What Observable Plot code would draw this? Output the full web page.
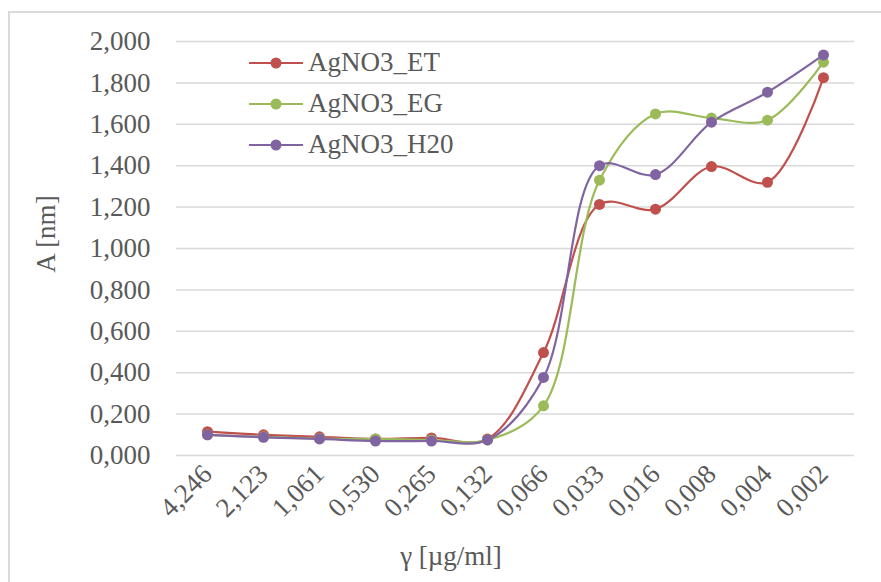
<!DOCTYPE html>
<html>
<head>
<meta charset="utf-8">
<script src="https://cdn.jsdelivr.net/npm/d3@7"></script>
<script src="https://cdn.jsdelivr.net/npm/@observablehq/plot@0.6"></script>
<style>
  body { margin: 0; background: #fff; }
  #wrap { position: relative; width: 881px; height: 582px; overflow: hidden;
          font-family: 'Liberation Serif', serif; color: #595959; }
  #frame { position: absolute; left: 8px; top: 11px; width: 1000px; height: 1000px;
           border-top: 2px solid #d9d9d9; border-left: 2px solid #d9d9d9; }
  #chart { position: absolute; left: 0; top: 0; }
  #chart svg, #chart svg text { font-family: 'Liberation Serif', serif !important; }
  .ttl { position: absolute; font-size: 27px; white-space: nowrap; line-height: 1; }
  #ytitle { left: 46px; top: 234px; transform: translate(-50%, -50%) rotate(-90deg); }
  #xtitle { left: 451px; top: 556px; transform: translate(-50%, -50%); }
  #legend { position: absolute; left: 249px; top: 42px; }
  .li { display: flex; align-items: center; height: 41px; font-size: 27px; }
  .li svg { margin-right: 5px; }
</style>
</head>
<body>
<div id="wrap">
  <div id="frame"></div>
  <div id="chart"></div>
  <div id="legend"></div>
  <div class="ttl" id="ytitle">A [nm]</div>
  <div class="ttl" id="xtitle">γ [µg/ml]</div>
</div>
<script>
const categories = ["4,246","2,123","1,061","0,530","0,265","0,132","0,066","0,033","0,016","0,008","0,004","0,002"];
const seriesNames = ["AgNO3_ET","AgNO3_EG","AgNO3_H20"];
const valuesET  = [0.115,0.100,0.090,0.080,0.085,0.080,0.497,1.213,1.190,1.396,1.320,1.825];
const valuesEG  = [0.100,0.090,0.082,0.080,0.075,0.075,0.240,1.330,1.650,1.630,1.620,1.900];
const valuesH20 = [0.100,0.088,0.080,0.070,0.070,0.075,0.377,1.400,1.357,1.610,1.755,1.935];
const colors = ["#C0504D","#9BBB59","#8064A2"];
const yTicks = [0,0.2,0.4,0.6,0.8,1.0,1.2,1.4,1.6,1.8,2.0];

const allValues = [valuesET, valuesEG, valuesH20];
const data = [];
seriesNames.forEach((s, i) => {
  categories.forEach((c, j) => data.push({series: s, cat: c, value: allValues[i][j]}));
});

const fmt = d => d.toFixed(3).replace(".", ",");

const chart = Plot.plot({
  width: 881,
  height: 582,
  marginLeft: 176,
  marginRight: 27,
  marginTop: 41,
  marginBottom: 127,
  style: { fontFamily: "Liberation Serif, serif", fontSize: "27px", color: "#595959", background: "transparent" },
  x: { type: "point", domain: categories, padding: 0.5 },
  y: { domain: [0, 2] },
  color: { domain: seriesNames, range: colors },
  marks: [
    Plot.gridY(yTicks, { stroke: "#d9d9d9", strokeOpacity: 1, strokeWidth: 1.5 }),
    Plot.axisY(yTicks, { tickSize: 0, tickPadding: 26, tickFormat: fmt, label: null }),
    Plot.axisX({ tickSize: 0, tickPadding: 14, tickRotate: -45, label: null }),
    Plot.line(data, { x: "cat", y: "value", z: "series", stroke: "series", curve: "catmull-rom", strokeWidth: 2.2 }),
    Plot.dot(data, { x: "cat", y: "value", fill: "series", r: 5.5 })
  ]
});
document.getElementById("chart").appendChild(chart);

const legend = document.getElementById("legend");
seriesNames.forEach((s, i) => {
  const row = document.createElement("div");
  row.className = "li";
  row.innerHTML = `<svg width="54" height="14"><line x1="0" x2="54" y1="7" y2="7" stroke="${colors[i]}" stroke-width="2.2"/><circle cx="27" cy="7" r="5.5" fill="${colors[i]}"/></svg><span>${s}</span>`;
  legend.appendChild(row);
});
</script>
</body>
</html>
